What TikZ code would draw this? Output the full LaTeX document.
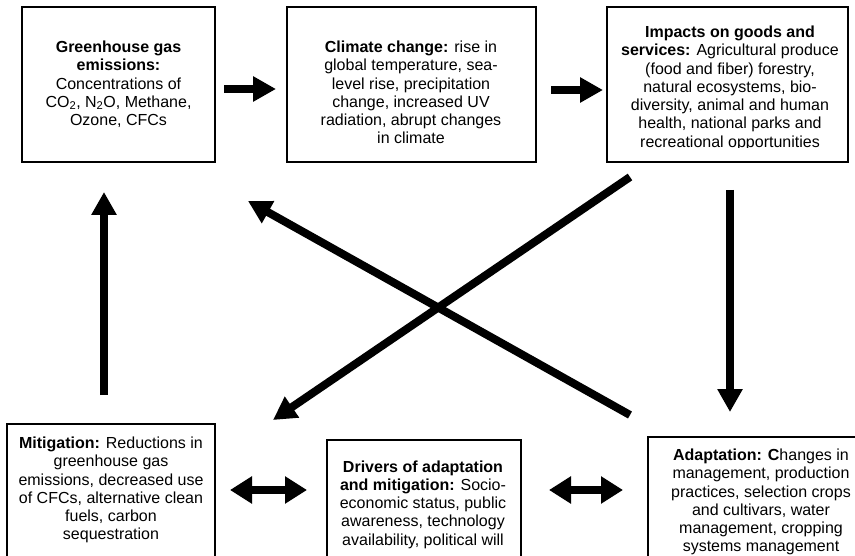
\documentclass[tikz,border=0pt]{standalone}
\usepackage{fontspec}
\setmainfont{Liberation Sans}
\usetikzlibrary{arrows.meta}
\begin{document}
\begin{tikzpicture}[x=1pt,y=-1pt,
  box/.style={draw, line width=1.6pt, inner sep=0pt, rectangle},
  txt/.style={anchor=base, inner sep=0pt, font=\fontsize{16}{18.3}\selectfont},
  fat/.style={line width=8pt, -{Triangle[length=23pt,width=24pt]}},
  fatboth/.style={line width=8pt, {Triangle[length=22pt,width=26pt]}-{Triangle[length=22pt,width=26pt]}},
]
\clip (0,0) rectangle (855,556);
\fill[white] (0,0) rectangle (855,556);
% boxes
\node[box, minimum width=193pt, minimum height=155pt] (ghg) at (118.5,84.5) {};
\node[box, minimum width=249pt, minimum height=155pt] (cc) at (411.5,84.5) {};
\node[box, minimum width=241pt, minimum height=155pt] (imp) at (727.5,84.5) {};
\node[box, minimum width=208pt, minimum height=176pt] (mit) at (111,512) {};
\node[box, minimum width=194pt, minimum height=160pt] (drv) at (424,520) {};
\node[box, minimum width=226pt, minimum height=163pt] (ada) at (761,518.5) {};
% texts
\node[txt] (ghgt) at (118.5,52.5) {\parbox[t]{260pt}{\centering
  \textbf{Greenhouse gas}\\ \textbf{emissions:}\\ Concentrations of\\
  CO\textsubscript{2}, N\textsubscript{2}O, Methane,\\ Ozone, CFCs}};
\node[txt] (cct) at (411,52.5) {\parbox[t]{260pt}{\centering
  \textbf{Climate change:} rise in\\ global temperature, sea-\\ level rise, precipitation\\
  change, increased UV\\ radiation, abrupt changes\\ in climate}};
\begin{scope}
\clip (607,7) rectangle (848,148);
\node[txt] (impt) at (730,37.5) {\parbox[t]{260pt}{\centering
  \textbf{Impacts on goods and}\\ \textbf{services:} Agricultural produce\\ (food and fiber) forestry,\\
  natural ecosystems, bio-\\ diversity, animal and human\\ health, national parks and\\ recreational opportunities}};
\end{scope}
\node[txt] (mitt) at (111,448.5) {\parbox[t]{260pt}{\centering
  \textbf{Mitigation:} Reductions in\\ greenhouse gas\\ emissions, decreased use\\
  of CFCs, alternative clean\\ fuels, carbon\\ sequestration}};
\node[txt] (drvt) at (423,472) {\parbox[t]{260pt}{\centering
  \textbf{Drivers of adaptation}\\ \textbf{and mitigation:} Socio-\\ economic status, public\\
  awareness, technology\\ availability, political will}};
\node[txt] (adat) at (761,460.5) {\parbox[t]{260pt}{\centering
  \textbf{Adaptation: C}hanges in\\ management, production\\ practices, selection crops\\
  and cultivars, water\\ management, cropping\\ systems management}};
% arrow end points
\coordinate (a1s) at (224,89);  \coordinate (a1e) at (276,89);
\coordinate (a2s) at (551,90);  \coordinate (a2e) at (603,90);
\coordinate (u1s) at (104,395); \coordinate (u1e) at (104,192);
\coordinate (d1s) at (730,190); \coordinate (d1e) at (730,412);
\coordinate (xas) at (630,177); \coordinate (xae) at (273,420);
\coordinate (xbs) at (630,415); \coordinate (xbe) at (248,201);
\coordinate (b1s) at (230,490); \coordinate (b1e) at (307,490);
\coordinate (b2s) at (549,490); \coordinate (b2e) at (623,490);
% arrows
\draw[fat] (a1s) -- (a1e);
\draw[fat] (a2s) -- (a2e);
\draw[fat] (u1s) -- (u1e);
\draw[fat] (d1s) -- (d1e);
\draw[fat] (xas) -- (xae);
\draw[fat] (xbs) -- (xbe);
\draw[fatboth] (b1s) -- (b1e);
\draw[fatboth] (b2s) -- (b2e);
\end{tikzpicture}
\end{document}
